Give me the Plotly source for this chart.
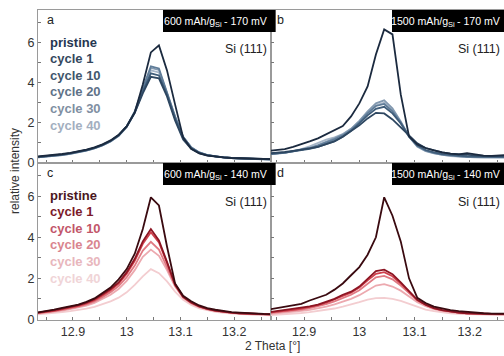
import plotly.graph_objects as go

# ---------------- data ----------------
two_theta = [12.835, 12.850, 12.865, 12.880, 12.895, 12.910, 12.925, 12.940, 12.955, 12.970,
             12.985, 13.000, 13.015, 13.030, 13.045, 13.060, 13.075, 13.090, 13.105, 13.120,
             13.135, 13.150, 13.165, 13.180, 13.195, 13.210, 13.225, 13.240, 13.255, 13.270]

series_names = ["pristine", "cycle 1", "cycle 10", "cycle 20", "cycle 30", "cycle 40"]

# panel a: 600 mAh/gSi - 170 mV
a_pristine = [0.30, 0.33, 0.37, 0.42, 0.48, 0.55, 0.64, 0.75, 0.90, 1.10, 1.38, 1.80, 2.50, 3.90, 5.50, 5.85, 4.60, 2.90, 1.25, 0.68, 0.45, 0.34, 0.28, 0.25, 0.22, 0.21, 0.19, 0.18, 0.17, 0.16]
a_cycle1   = [0.28, 0.31, 0.35, 0.40, 0.46, 0.53, 0.62, 0.73, 0.88, 1.08, 1.36, 1.80, 2.48, 3.45, 4.28, 4.20, 3.30, 2.10, 1.15, 0.68, 0.46, 0.35, 0.29, 0.25, 0.22, 0.20, 0.19, 0.18, 0.17, 0.16]
a_cycle10  = [0.27, 0.30, 0.34, 0.39, 0.45, 0.52, 0.61, 0.72, 0.87, 1.07, 1.35, 1.80, 2.50, 3.55, 4.45, 4.35, 3.40, 2.20, 1.22, 0.72, 0.48, 0.36, 0.29, 0.25, 0.22, 0.20, 0.18, 0.17, 0.16, 0.15]
a_cycle20  = [0.26, 0.29, 0.33, 0.38, 0.44, 0.51, 0.60, 0.71, 0.86, 1.06, 1.34, 1.80, 2.55, 3.70, 4.80, 4.70, 3.55, 2.30, 1.28, 0.75, 0.50, 0.37, 0.30, 0.25, 0.22, 0.20, 0.18, 0.17, 0.16, 0.15]
a_cycle30  = [0.25, 0.28, 0.32, 0.37, 0.43, 0.50, 0.59, 0.70, 0.85, 1.05, 1.33, 1.78, 2.52, 3.65, 4.72, 4.62, 3.50, 2.28, 1.28, 0.76, 0.50, 0.37, 0.29, 0.24, 0.21, 0.19, 0.17, 0.16, 0.15, 0.14]
a_cycle40  = [0.25, 0.28, 0.32, 0.37, 0.43, 0.50, 0.59, 0.70, 0.85, 1.05, 1.32, 1.76, 2.48, 3.58, 4.60, 4.50, 3.45, 2.25, 1.27, 0.76, 0.50, 0.37, 0.29, 0.24, 0.21, 0.19, 0.17, 0.16, 0.15, 0.14]

# panel b: 1500 mAh/gSi - 170 mV
b_pristine = [0.57, 0.60, 0.66, 0.78, 0.90, 1.05, 1.20, 1.42, 1.60, 1.82, 2.30, 2.95, 3.80, 5.40, 6.65, 6.40, 3.40, 1.30, 0.90, 0.72, 0.60, 0.50, 0.44, 0.40, 0.46, 0.40, 0.34, 0.33, 0.35, 0.37]
b_cycle1   = [0.45, 0.48, 0.52, 0.58, 0.63, 0.70, 0.78, 0.90, 1.05, 1.28, 1.55, 1.85, 2.20, 2.48, 2.45, 2.15, 1.75, 1.35, 0.95, 0.72, 0.60, 0.50, 0.44, 0.40, 0.37, 0.35, 0.33, 0.32, 0.32, 0.33]
b_cycle10  = [0.42, 0.45, 0.49, 0.55, 0.61, 0.68, 0.77, 0.90, 1.06, 1.28, 1.58, 1.95, 2.35, 2.68, 2.78, 2.45, 1.95, 1.30, 0.85, 0.62, 0.50, 0.42, 0.37, 0.33, 0.30, 0.29, 0.28, 0.27, 0.27, 0.28]
b_cycle20  = [0.42, 0.45, 0.49, 0.56, 0.63, 0.72, 0.84, 0.98, 1.15, 1.35, 1.62, 2.00, 2.45, 2.82, 2.92, 2.55, 2.00, 1.30, 0.82, 0.60, 0.48, 0.40, 0.35, 0.32, 0.29, 0.28, 0.27, 0.26, 0.26, 0.27]
b_cycle30  = [0.40, 0.43, 0.48, 0.55, 0.62, 0.72, 0.86, 1.02, 1.20, 1.40, 1.68, 2.08, 2.55, 2.95, 3.10, 2.70, 2.05, 1.30, 0.80, 0.58, 0.46, 0.38, 0.33, 0.30, 0.27, 0.26, 0.25, 0.24, 0.24, 0.25]
b_cycle40  = [0.40, 0.43, 0.48, 0.56, 0.66, 0.80, 0.98, 1.14, 1.25, 1.42, 1.68, 2.05, 2.50, 2.85, 2.98, 2.62, 2.00, 1.28, 0.78, 0.56, 0.45, 0.37, 0.32, 0.29, 0.26, 0.25, 0.24, 0.23, 0.23, 0.24]

# panel c: 600 mAh/gSi - 140 mV
c_pristine = [0.34, 0.40, 0.48, 0.56, 0.63, 0.72, 0.85, 1.02, 1.28, 1.55, 1.95, 2.45, 3.20, 4.40, 5.95, 5.55, 3.55, 1.75, 1.15, 0.88, 0.68, 0.55, 0.47, 0.40, 0.35, 0.33, 0.30, 0.28, 0.27, 0.26]
c_cycle1   = [0.33, 0.38, 0.45, 0.53, 0.60, 0.70, 0.82, 0.98, 1.22, 1.48, 1.80, 2.30, 2.95, 3.80, 4.40, 3.85, 2.80, 1.70, 1.10, 0.82, 0.63, 0.51, 0.43, 0.37, 0.33, 0.30, 0.28, 0.26, 0.25, 0.24]
c_cycle10  = [0.32, 0.36, 0.42, 0.50, 0.57, 0.66, 0.78, 0.94, 1.16, 1.42, 1.74, 2.22, 2.85, 3.68, 4.25, 3.75, 2.75, 1.70, 1.10, 0.82, 0.63, 0.51, 0.43, 0.37, 0.33, 0.30, 0.28, 0.26, 0.25, 0.24]
c_cycle20  = [0.30, 0.34, 0.40, 0.47, 0.54, 0.62, 0.73, 0.88, 1.08, 1.32, 1.62, 2.05, 2.62, 3.35, 3.78, 3.40, 2.55, 1.65, 1.08, 0.80, 0.62, 0.50, 0.42, 0.36, 0.32, 0.29, 0.27, 0.25, 0.24, 0.23]
c_cycle30  = [0.28, 0.32, 0.37, 0.43, 0.50, 0.57, 0.67, 0.80, 0.98, 1.20, 1.48, 1.88, 2.40, 3.05, 3.40, 3.10, 2.40, 1.60, 1.05, 0.78, 0.60, 0.48, 0.40, 0.35, 0.31, 0.28, 0.26, 0.24, 0.23, 0.22]
c_cycle40  = [0.24, 0.27, 0.31, 0.35, 0.40, 0.45, 0.52, 0.61, 0.73, 0.88, 1.06, 1.32, 1.68, 2.10, 2.45, 2.25, 1.85, 1.35, 0.95, 0.70, 0.54, 0.44, 0.37, 0.32, 0.28, 0.26, 0.24, 0.22, 0.21, 0.20]

# panel d: 1500 mAh/gSi - 140 mV
d_pristine = [0.48, 0.55, 0.62, 0.68, 0.76, 0.92, 1.05, 1.20, 1.45, 1.75, 2.15, 2.55, 3.15, 4.00, 5.95, 5.05, 3.80, 2.00, 1.05, 0.80, 0.62, 0.52, 0.45, 0.40, 0.36, 0.32, 0.30, 0.28, 0.28, 0.28]
d_cycle1   = [0.35, 0.40, 0.45, 0.50, 0.56, 0.63, 0.72, 0.85, 1.00, 1.20, 1.35, 1.60, 2.00, 2.35, 2.42, 2.20, 1.80, 1.35, 0.95, 0.72, 0.55, 0.45, 0.38, 0.33, 0.30, 0.28, 0.27, 0.27, 0.26, 0.26]
d_cycle10  = [0.33, 0.37, 0.42, 0.47, 0.53, 0.60, 0.69, 0.81, 0.96, 1.14, 1.30, 1.55, 1.90, 2.22, 2.30, 2.10, 1.75, 1.32, 0.94, 0.71, 0.55, 0.45, 0.38, 0.33, 0.30, 0.28, 0.27, 0.26, 0.26, 0.26]
d_cycle20  = [0.30, 0.34, 0.38, 0.43, 0.48, 0.55, 0.63, 0.74, 0.88, 1.04, 1.20, 1.42, 1.75, 2.05, 2.12, 1.95, 1.65, 1.28, 0.92, 0.70, 0.54, 0.44, 0.37, 0.33, 0.30, 0.28, 0.27, 0.26, 0.25, 0.25]
d_cycle30  = [0.26, 0.29, 0.33, 0.37, 0.41, 0.46, 0.53, 0.62, 0.73, 0.86, 1.00, 1.18, 1.42, 1.65, 1.72, 1.60, 1.40, 1.12, 0.84, 0.64, 0.50, 0.41, 0.35, 0.31, 0.28, 0.26, 0.25, 0.24, 0.24, 0.24]
d_cycle40  = [0.20, 0.22, 0.25, 0.28, 0.31, 0.35, 0.40, 0.46, 0.53, 0.62, 0.72, 0.84, 0.96, 1.04, 1.05, 1.00, 0.90, 0.75, 0.60, 0.48, 0.40, 0.34, 0.30, 0.27, 0.25, 0.24, 0.23, 0.22, 0.22, 0.22]

panel_letters = ["a", "b", "c", "d"]
# condition label split into: main text, subscript, tail
cond_main = ["600 mAh/g", "1500 mAh/g", "600 mAh/g", "1500 mAh/g"]
cond_sub = ["Si", "Si", "Si", "Si"]
cond_tail = [" - 170 mV", " - 170 mV", " - 140 mV", " - 140 mV"]
reflection_label = "Si (111)"
x_tick_vals = [12.9, 13.0, 13.1, 13.2]
x_tick_text = ["12.9", "13", "13.1", "13.2"]
y_tick_vals = [0, 2, 4, 6]
y_tick_text = ["0", "2", "4", "6"]
x_title = "2 Theta [°]"
y_title = "relative intensity"

blue_lines = ["#1b2a3f", "#2d4660", "#3f5d7a", "#5f7c98", "#8399b0", "#a6b6c8"]
blue_text = ["#263650", "#34485e", "#41566c", "#5f7288", "#7f8fa2", "#a3afbf"]
red_lines = ["#3a0a10", "#8c1523", "#cf3f4b", "#e07a83", "#eca9af", "#f3cdd0"]
red_text = ["#4a1620", "#7c1a2a", "#c2566a", "#d9858f", "#e8b6bc", "#f0d4d7"]

panels = [
    dict(ys=[a_pristine, a_cycle1, a_cycle10, a_cycle20, a_cycle30, a_cycle40], colors=blue_lines),
    dict(ys=[b_pristine, b_cycle1, b_cycle10, b_cycle20, b_cycle30, b_cycle40], colors=blue_lines),
    dict(ys=[c_pristine, c_cycle1, c_cycle10, c_cycle20, c_cycle30, c_cycle40], colors=red_lines),
    dict(ys=[d_pristine, d_cycle1, d_cycle10, d_cycle20, d_cycle30, d_cycle40], colors=red_lines),
]

# Arial / Liberation Sans advance widths (em)
CW = {"0": .556, "1": .556, "4": .556, "5": .556, "6": .556, "7": .556, " ": .278, "-": .333,
      "m": .833, "V": .667, "A": .667, "h": .556, "/": .278, "g": .556, "S": .667, "i": .222}


def text_w(s, size):
    return sum(CW.get(c, .556) for c in s) * size


# ---------------- figure ----------------
W, H = 504, 356
ML, MR, MT, MB = 38, 0, 10, 36
pw = W - ML - MR
ph = H - MT - MB
split_x = (271 - ML) / pw
split_y = (320 - 163) / ph

xdoms = [[0, split_x], [split_x, 1], [0, split_x], [split_x, 1]]
ydoms = [[split_y, 1], [split_y, 1], [0, split_y], [0, split_y]]
xranges = [[12.835, 13.2685], [12.84, 13.262], [12.835, 13.2685], [12.84, 13.262]]
yrange = [-0.03, 7.62]

FONT = "Arial, Liberation Sans, sans-serif"
fig = go.Figure()
frame = "#9a9a9a"
MAIN_FS = 10.6
SUB_FS = 7.5

for i, p in enumerate(panels):
    n = i + 1
    xa = "x" if n == 1 else f"x{n}"
    ya = "y" if n == 1 else f"y{n}"
    # draw lighter curves first so the darker ones sit on top
    for k in range(len(series_names) - 1, -1, -1):
        fig.add_trace(go.Scatter(x=two_theta, y=p["ys"][k], mode="lines",
                                 line=dict(color=p["colors"][k], width=1.8),
                                 name=series_names[k], showlegend=False,
                                 xaxis=xa, yaxis=ya, hoverinfo="skip"))
    left = i in (0, 2)
    bottom = i in (2, 3)
    xkey = "xaxis" if n == 1 else f"xaxis{n}"
    ykey = "yaxis" if n == 1 else f"yaxis{n}"
    fig.layout[xkey] = dict(domain=xdoms[i], range=xranges[i], anchor=ya,
                            showgrid=False, zeroline=False, showline=True, linecolor=frame,
                            linewidth=1, mirror=True, ticks="inside", ticklen=3, tickcolor="#777",
                            tickvals=x_tick_vals, ticktext=x_tick_text,
                            showticklabels=bottom,
                            minor=dict(dtick=0.05, tick0=12.9, ticks="inside", ticklen=3, tickcolor="#777"),
                            tickfont=dict(family=FONT, size=12.5, color="#333"))
    fig.layout[ykey] = dict(domain=ydoms[i], range=yrange, anchor=xa,
                            showgrid=False, zeroline=False, showline=True, linecolor=frame,
                            linewidth=1, mirror=left, ticks="inside", ticklen=3, tickcolor="#777",
                            tickvals=y_tick_vals, ticktext=y_tick_text, showticklabels=left,
                            minor=dict(dtick=1, tick0=0, ticks="inside", ticklen=3, tickcolor="#777"),
                            tickfont=dict(family=FONT, size=12.5, color="#333"))

    xd = "x domain" if n == 1 else f"x{n} domain"
    yd = "y domain" if n == 1 else f"y{n} domain"
    x0 = xdoms[i][0] * pw + ML
    x1 = xdoms[i][1] * pw + ML
    ytop = H - MB - ydoms[i][1] * ph
    ybot = H - MB - ydoms[i][0] * ph
    pwi = x1 - x0
    phi = ybot - ytop

    def fx(px):
        return (px - x0) / pwi

    def fy(py):
        return (ybot - py) / phi

    # black condition box
    box_left = 163 if left else 392
    fig.add_shape(type="rect", xref=xd, yref=yd, x0=fx(box_left), x1=1.02, y0=fy(ytop + 22), y1=1,
                  fillcolor="black", line=dict(width=0), layer="above")
    tail_right = x1 - 2
    tail_w = text_w(cond_tail[i], MAIN_FS)
    sub_right = tail_right - tail_w
    sub_w = text_w(cond_sub[i], SUB_FS)
    main_right = sub_right - sub_w - 0.5
    fig.add_annotation(xref=xd, yref=yd, x=fx(tail_right), y=fy(ytop + 11),
                       text=cond_tail[i], showarrow=False, xanchor="right", yanchor="middle",
                       borderpad=0, font=dict(family=FONT, size=MAIN_FS, color="white"))
    fig.add_annotation(xref=xd, yref=yd, x=fx(sub_right), y=fy(ytop + 14),
                       text=cond_sub[i], showarrow=False, xanchor="right", yanchor="middle",
                       borderpad=0, font=dict(family=FONT, size=SUB_FS, color="white"))
    fig.add_annotation(xref=xd, yref=yd, x=fx(main_right), y=fy(ytop + 11),
                       text=cond_main[i], showarrow=False, xanchor="right", yanchor="middle",
                       borderpad=0, font=dict(family=FONT, size=MAIN_FS, color="white"))
    # panel letter
    fig.add_annotation(xref=xd, yref=yd, x=fx(x0 + (7 if left else 4)), y=fy(ytop + 10),
                       text=panel_letters[i], showarrow=False, xanchor="left", yanchor="middle",
                       font=dict(family=FONT, size=12.5, color="#222"))
    # Si (111)
    fig.add_annotation(xref=xd, yref=yd, x=fx(x1 - 2), y=fy(ytop + 39),
                       text=reflection_label, showarrow=False, xanchor="right", yanchor="middle",
                       font=dict(family=FONT, size=12.5, color="#222"))
    # series labels
    if left:
        tcols = blue_text if i == 0 else red_text
        for k, nm in enumerate(series_names):
            fig.add_annotation(xref=xd, yref=yd, x=fx(48), y=fy(ytop + 32 + 16.6 * k),
                               text=f"<b>{nm}</b>", showarrow=False, xanchor="left", yanchor="middle",
                               font=dict(family=FONT, size=13, color=tcols[k]))

fig.add_annotation(xref="paper", yref="paper", x=(272 - ML) / pw, y=-(346 - (H - MB)) / ph,
                   text=x_title, showarrow=False, xanchor="center", yanchor="middle",
                   font=dict(family=FONT, size=12, color="#333"))
fig.add_annotation(xref="paper", yref="paper", x=-(ML - 15) / pw, y=(H - MB - 171) / ph,
                   text=y_title, showarrow=False, textangle=-90, xanchor="center", yanchor="middle",
                   font=dict(family=FONT, size=12, color="#333"))

fig.update_layout(width=W, height=H, margin=dict(l=ML, r=MR, t=MT, b=MB),
                  paper_bgcolor="white", plot_bgcolor="white", showlegend=False)

fig.write_html("out.html")
